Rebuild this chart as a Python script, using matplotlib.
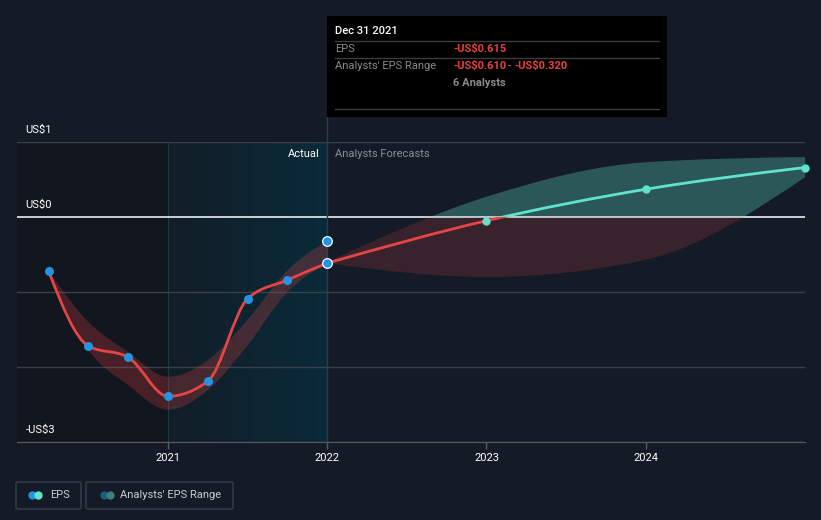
import numpy as np
import matplotlib
matplotlib.use("Agg")
import matplotlib.pyplot as plt
from matplotlib.path import Path
from matplotlib.patches import PathPatch, Rectangle, FancyBboxPatch
from matplotlib.lines import Line2D
from matplotlib.colors import LinearSegmentedColormap

plt.rcParams['font.family'] = ['Roboto', 'DejaVu Sans']

# --- data ---
hist_x = [2020.25, 2020.5, 2020.75, 2021.0, 2021.25, 2021.5, 2021.75, 2022.0]
hist_eps = [-0.72, -1.72, -1.87, -2.39, -2.19, -1.09, -0.84, -0.615]
hist_hi = [-0.72, -1.40, -1.80, -2.13, -1.91, -1.37, -0.71, -0.32]
hist_lo = [-0.72, -1.77, -2.24, -2.57, -2.31, -1.71, -1.00, -0.62]

fc_x = [2022.0, 2023.0, 2024.0, 2025.0]
fc_eps = [-0.615, -0.05, 0.37, 0.66]
fc_hi = [-0.60, 0.27, 0.73, 0.80]
fc_lo = [-0.615, -0.80, -0.57, 0.53]

hover_x = 2022.0
hover_eps = -0.615
hover_hi = -0.32

y_ticks = [1, 0, -1, -2, -3]
y_labels = {1: 'US$1', 0: 'US$0', -3: '-US$3'}
x_ticks = [2021, 2022, 2023, 2024]

BG = '#151b26'
RED = '#e64545'
CYAN = '#5fe3cc'
BLUE = '#2394df'
GREY = '#3a404a'


def slopes(xs, ys):
    # monotone-x tangents (like d3.curveMonotoneX)
    x = np.asarray(xs, float)
    y = np.asarray(ys, float)
    n = len(x)
    h = np.diff(x)
    s = np.diff(y) / h
    t = np.zeros(n)
    for i in range(1, n - 1):
        p = (s[i - 1] * h[i] + s[i] * h[i - 1]) / (h[i - 1] + h[i])
        t[i] = (np.sign(s[i - 1]) + np.sign(s[i])) * min(abs(s[i - 1]), abs(s[i]), 0.5 * abs(p))
    if n > 2:
        t[0] = (3 * s[0] - t[1]) / 2
        t[-1] = (3 * s[-1] - t[-2]) / 2
    else:
        t[:] = s[0]
    return x, y, t


def smooth(xs, ys):
    x, y, t = slopes(xs, ys)
    verts = [(x[0], y[0])]
    codes = [Path.MOVETO]
    for i in range(len(x) - 1):
        dx = (x[i + 1] - x[i]) / 3
        verts += [(x[i] + dx, y[i] + dx * t[i]),
                  (x[i + 1] - dx, y[i + 1] - dx * t[i + 1]),
                  (x[i + 1], y[i + 1])]
        codes += [Path.CURVE4] * 3
    return verts, codes


def band_path(xs, hi, lo):
    v1, c1 = smooth(xs, hi)
    v2, c2 = smooth(xs, lo)
    # walk the lower edge backwards
    v2r = v2[::-1]
    c2r = [Path.LINETO] + [Path.CURVE4] * (len(v2) - 1)
    return Path(v1 + v2r + [v1[0]], c1 + c2r + [Path.CLOSEPOLY])


def line_path(xs, ys):
    v, c = smooth(xs, ys)
    return Path(v, c)


def add_clipped(ax, path, above, **kw):
    patch = PathPatch(path, **kw)
    ax.add_patch(patch)
    if above is None:
        return patch
    if above:
        clip = Rectangle((2019, 0), 10, 10, transform=ax.transData)
    else:
        clip = Rectangle((2019, -10), 10, 10, transform=ax.transData)
    patch.set_clip_path(clip)
    return patch


fig = plt.figure(figsize=(8.21, 5.2), dpi=100)
fig.patch.set_facecolor(BG)
ax = fig.add_axes([17 / 821, 78 / 520, 788 / 821, 300 / 520])
ax.set_facecolor(BG)
ax.set_xlim(2020.052, 2025.0)
ax.set_ylim(-3, 1)

# shaded past regions
ax.axvspan(2020.052, 2021.0, color='#12161e', lw=0, zorder=0)
teal = LinearSegmentedColormap.from_list('t', ['#121d27', '#0a2b3a'], N=1024)
grad = np.linspace(0, 1, 512).reshape(1, -1)
ax.imshow(grad, cmap=teal, extent=[2021.0, 2022.0, -3, 1], aspect='auto', zorder=0)
ax.axvline(2021.0, color='#1c3746', lw=0.8, zorder=1)

# grid
for t in y_ticks:
    if t == 0:
        ax.axhline(t, color='white', lw=1.1, zorder=2)
    else:
        ax.axhline(t, color=GREY, lw=1, zorder=1)
for t, lab in y_labels.items():
    ax.annotate(lab, xy=(0.011, t), xycoords=('axes fraction', 'data'),
                xytext=(0, 5), textcoords='offset points',
                color='white', fontsize=8, va='bottom', ha='left')

# bands
hb = band_path(hist_x, hist_hi, hist_lo)
add_clipped(ax, hb, None, facecolor=RED, alpha=0.25, edgecolor='none', zorder=3)
fb = band_path(fc_x, fc_hi, fc_lo)
add_clipped(ax, fb, False, facecolor=RED, alpha=0.17, edgecolor='none', zorder=3)
add_clipped(ax, fb, True, facecolor=CYAN, alpha=0.3, edgecolor='none', zorder=3)

# lines
add_clipped(ax, line_path(hist_x, hist_eps), None, fill=False, edgecolor=RED, lw=2, zorder=4)
fl = line_path(fc_x, fc_eps)
add_clipped(ax, fl, False, fill=False, edgecolor=RED, lw=2, zorder=4)
add_clipped(ax, fl, True, fill=False, edgecolor=CYAN, lw=2, zorder=4)

# points
ax.scatter(hist_x[:-1], hist_eps[:-1], s=42, color=BLUE, zorder=5, linewidths=0)
ax.scatter([hover_x, hover_x], [hover_eps, hover_hi], s=48, color=BLUE,
           edgecolors='white', linewidths=0.9, zorder=6)
ax.scatter(fc_x[1:], fc_eps[1:], s=36, color=CYAN, zorder=5, linewidths=0, clip_on=False)

# hover line
ax.axvline(hover_x, ymin=0, ymax=(442 - 117) / 300, color='#1f4252', lw=1,
           zorder=2, clip_on=False)
ax.text(2022.0 - 0.05, 0.84, 'Actual', color='white', fontsize=8, ha='right', va='center')
ax.text(2022.0 + 0.05, 0.84, 'Analysts Forecasts', color='#8a8f98', fontsize=8,
        ha='left', va='center')

# axes styling
for s in ['top', 'right', 'left']:
    ax.spines[s].set_visible(False)
ax.spines['bottom'].set_color('#555a63')
ax.set_yticks([])
ax.set_xticks(x_ticks)
ax.set_xticklabels([str(t) for t in x_ticks])
ax.tick_params(axis='x', colors='#555a63', length=5, width=1, labelcolor='white',
               labelsize=8, pad=3)

# tooltip
W, H = 821, 520
fig.patches.append(Rectangle((327 / W, 1 - 117 / H), 340 / W, 101 / H,
                             transform=fig.transFigure, facecolor='black',
                             edgecolor='none', zorder=10))
for yy in [41, 58, 109]:
    fig.add_artist(Line2D([335 / W, 659 / W], [1 - yy / H, 1 - yy / H],
                          transform=fig.transFigure, color='#3c3c3c', lw=1, zorder=11))
fig.text(335 / W, 1 - 31 / H, 'Dec 31 2021', color='white', fontsize=8,
         fontweight='medium', va='center', zorder=12)
fig.text(335 / W, 1 - 49 / H, 'EPS', color='#8a8a8a', fontsize=8, va='center', zorder=12)
fig.text(453 / W, 1 - 49 / H, '-US$0.615', color='#e84040', fontsize=8,
         va='center', fontweight='bold', zorder=12)
fig.text(335 / W, 1 - 66 / H, "Analysts' EPS Range", color='#8a8a8a', fontsize=8,
         va='center', zorder=12)
fig.text(453 / W, 1 - 66 / H, '-US$0.610', color='#e84040', fontsize=8,
         va='center', fontweight='bold', zorder=12)
fig.text(509 / W, 1 - 66 / H, '-', color='#8a8a8a', fontsize=8, va='center',
         ha='center', zorder=12)
fig.text(514 / W, 1 - 66 / H, '-US$0.320', color='#e84040', fontsize=8,
         va='center', fontweight='bold', zorder=12)
fig.text(453 / W, 1 - 83 / H, '6 Analysts', color='#8a8a8a', fontsize=8,
         va='center', fontweight='bold', zorder=12)

# legend
for x0, x1 in [(16, 81), (86, 233)]:
    fig.patches.append(FancyBboxPatch((x0 / W, 1 - 509 / H), (x1 - x0) / W, 27 / H,
                                      boxstyle='round,pad=0,rounding_size=0.003',
                                      transform=fig.transFigure, facecolor='none',
                                      edgecolor='#3a3f48', lw=1))
for cx, c in [(32, BLUE), (38, CYAN), (104, '#1f5a80'), (110, '#3d7f7a')]:
    fig.add_artist(Line2D([cx / W], [1 - 495 / H], transform=fig.transFigure,
                          marker='o', markersize=6, color=c, markeredgewidth=0))
fig.text(50 / W, 1 - 495 / H, 'EPS', color='#c8cbd0', fontsize=8, va='center')
fig.text(120 / W, 1 - 495 / H, "Analysts' EPS Range", color='#c8cbd0', fontsize=8,
         va='center')

fig.savefig('out.png', dpi=100, facecolor=BG)
